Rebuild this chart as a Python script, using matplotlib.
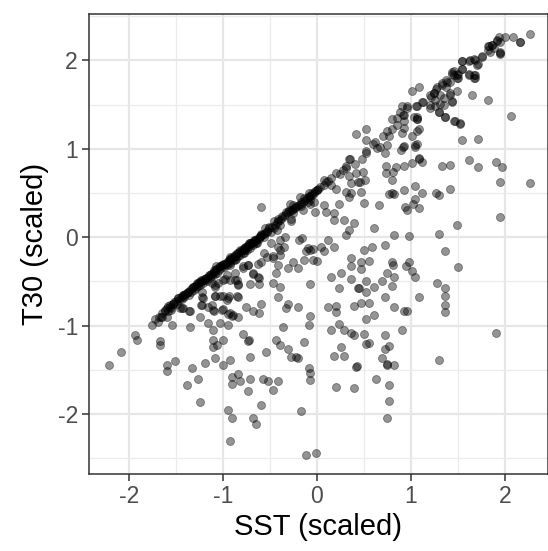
import matplotlib
matplotlib.use("Agg")
import matplotlib.pyplot as plt
from matplotlib.ticker import FixedLocator
import numpy as np

plt.rcParams['font.family'] = ['Liberation Sans', 'DejaVu Sans']
plt.rcParams['axes.unicode_minus'] = False

# ---- data (SST scaled, T30 scaled) ----
band_main = [
    (-1.72,-0.93),(-1.68,-0.90),(-1.65,-0.86),(-1.62,-0.82),(-1.60,-0.80),(-1.58,-0.78),(-1.56,-0.77),(-1.55,-0.80),
    (-1.53,-0.75),(-1.52,-0.73),(-1.50,-0.72),(-1.49,-0.75),(-1.48,-0.69),(-1.47,-0.71),(-1.45,-0.68),(-1.44,-0.70),
    (-1.43,-0.66),(-1.42,-0.65),(-1.41,-0.68),(-1.40,-0.64),(-1.38,-0.63),(-1.37,-0.62),(-1.36,-0.65),(-1.35,-0.60),
    (-1.34,-0.62),(-1.33,-0.58),(-1.32,-0.56),(-1.31,-0.60),(-1.30,-0.55),(-1.29,-0.57),(-1.28,-0.53),(-1.27,-0.55),
    (-1.26,-0.52),(-1.25,-0.51),(-1.24,-0.54),(-1.23,-0.49),(-1.22,-0.50),(-1.21,-0.52),(-1.20,-0.47),(-1.19,-0.48),
    (-1.18,-0.46),(-1.17,-0.50),(-1.16,-0.45),(-1.15,-0.43),(-1.14,-0.46),(-1.13,-0.42),(-1.12,-0.44),(-1.11,-0.40),
    (-1.10,-0.39),(-1.09,-0.42),(-1.08,-0.38),(-1.07,-0.36),(-1.06,-0.40),(-1.05,-0.35),(-1.04,-0.37),(-1.03,-0.33),
    (-1.02,-0.35),(-1.01,-0.32),(-1.00,-0.31),(-0.99,-0.34),(-0.98,-0.30),(-0.97,-0.29),(-0.96,-0.32),(-0.95,-0.27),
    (-0.94,-0.28),(-0.93,-0.25),(-0.92,-0.29),(-0.91,-0.24),(-0.90,-0.23),(-0.89,-0.26),(-0.88,-0.21),(-0.87,-0.22),
    (-0.86,-0.25),(-0.85,-0.19),(-0.84,-0.21),(-0.83,-0.17),(-0.82,-0.20),(-0.81,-0.16),(-0.80,-0.15),(-0.79,-0.18),
    (-0.78,-0.13),(-0.77,-0.14),(-0.76,-0.12),(-0.75,-0.11),(-0.74,-0.14),(-0.73,-0.09),(-0.72,-0.10),(-0.71,-0.07),
    (-0.70,-0.08),(-0.69,-0.06),(-0.68,-0.09),(-0.67,-0.04),(-0.66,-0.05),(-0.65,-0.03),(-0.64,-0.06),(-0.63,-0.01),
    (-0.62,-0.02),(-0.61,0.00),(-0.60,0.02),(-0.58,0.03),(-0.56,0.04),(-0.55,0.05),
    (-0.53,0.07),(-0.51,0.10),(-0.49,0.06),(-0.48,0.11),(-0.46,0.10),(-0.45,0.14),(-0.43,0.16),(-0.41,0.18),
    (-0.39,0.20),(-0.37,0.22),(-0.35,0.24),(-0.33,0.26),(-0.31,0.28),(-0.29,0.30),(-0.27,0.31),(-0.25,0.32),
    (-0.23,0.34),(-0.21,0.35),(-0.19,0.37),(-0.17,0.38),(-0.15,0.40),(-0.13,0.42),(-0.11,0.44),
    (-0.09,0.45),(-0.07,0.47),(-0.05,0.48),(-0.03,0.50),(-0.02,0.52),
    (0.00,0.53),(0.01,0.55),
]

band_extra = [
    (-1.48,-0.69),(-1.42,-0.65),(-1.37,-0.62),(-1.32,-0.56),(-1.28,-0.52),(-1.23,-0.48),(-1.19,-0.47),(-1.14,-0.43),
    (-1.10,-0.37),(-1.07,-0.33),(-1.03,-0.33),(-1.00,-0.30),(-0.94,-0.26),(-0.93,-0.22),(-0.87,-0.20),(-0.82,-0.15),
    (-0.77,-0.11),(-0.71,-0.07),(-0.66,-0.03),(-0.61,0.01),(-0.85,-0.18),(-0.78,-0.125),(-0.725,-0.07),(-0.67,-0.03),
    (-0.60,0.04),(-0.55,0.10),(-0.51,0.12),(-0.46,0.18),(-0.41,0.21),(-0.37,0.24),(-0.33,0.29),(-0.30,0.31),
    (-0.25,0.36),(-0.17,0.40),(-0.14,0.44),(-0.09,0.47),(-0.05,0.50),(-0.005,0.535),(-0.07,0.42),(-0.03,0.40),
    (-0.10,0.40),(-0.17,0.35),(-0.23,0.33),(-0.25,0.27),(-0.28,0.21),(-0.39,0.14),(-0.42,0.08),(-0.53,0.06),
    (-0.565,0.007),(-0.65,-0.07),(-0.71,-0.125),(-0.78,-0.18),(-0.87,-0.26),(-0.92,-0.31),
    (-1.565,-0.79),(-1.53,-0.75),(-1.55,-0.82),(-1.62,-0.84),(-1.65,-0.90),(-1.69,-0.96),(-1.46,-0.80),(-1.42,-0.80),
    (-1.35,-0.84),(-1.23,-0.77),(-1.21,-0.69),(-1.22,-0.62),(-1.12,-0.77),(-1.10,-0.84),(-1.015,-0.82),
    (-1.085,-0.67),(-1.03,-0.67),(-0.96,-0.71),(-0.94,-0.67),(-0.855,-0.67),(-0.93,-0.86),(-0.89,-0.88),
    (-1.12,-0.52),(-1.085,-0.54),(-1.05,-0.52),(-1.00,-0.48),(-0.96,-0.43),(-0.93,-0.48),(-0.87,-0.41),
    (-0.855,-0.48),(-0.84,-0.54),(-0.785,-0.33),(-0.73,-0.32),(-0.68,-0.41),(-0.625,-0.30),(-0.625,-0.45),
]

lower_left = [
    (-2.21,-1.44),(-2.08,-1.30),(-1.94,-1.11),(-1.91,-1.16),(-1.76,-0.99),(-1.67,-1.17),(-1.67,-1.22),(-1.60,-1.45),
    (-1.60,-1.51),(-1.51,-1.40),(-1.54,-0.99),(-1.35,-1.02),(-1.33,-1.48),(-1.38,-1.67),(-1.27,-1.60),(-1.24,-1.86),
    (-1.19,-1.42),(-1.24,-0.90),(-1.16,-0.97),(-1.11,-1.05),(-1.11,-1.16),(-1.11,-1.24),(-1.06,-1.22),(-1.09,-1.37),
    (-1.00,-1.45),(-1.00,-1.16),(-1.03,-0.97),(-0.95,-0.99),(-0.93,-1.39),(-0.90,-1.58),(-0.90,-1.66),(-0.84,-1.55),
    (-0.82,-1.63),(-0.95,-1.96),(-0.90,-2.04),(-0.93,-2.30),(-0.73,-1.74),(-0.71,-1.60),(-0.71,-1.36),(-0.79,-1.10),
    (-0.73,-1.17),(-0.72,-1.16),(-0.68,-2.05),(-0.65,-2.11),(-0.60,-1.90),(-0.57,-1.60),(-0.52,-1.63),(-0.47,-1.73),
    (-0.41,-1.63),(-0.54,-1.30),(-0.44,-1.16),(-0.39,-1.22),(-0.31,-1.26),(-0.28,-1.35),(-0.22,-1.36),(-0.20,-1.37),
    (-0.36,-1.02),(-0.14,-1.19),(-0.09,-0.99),(-0.07,-0.89),(-0.09,-1.48),(-0.07,-1.54),(-0.07,-1.62),(-0.17,-1.97),
    (-0.12,-2.46),(-0.01,-2.44),
]

mid_left = [
    (-0.71,-0.53),(-0.62,-0.53),(-0.68,-0.42),(-0.62,-0.46),(-0.76,-0.79),(-0.68,-0.84),(-0.62,-0.86),(-0.60,-0.76),
    (-0.84,-0.68),(-0.84,-0.53),(-0.79,-0.35),(-0.73,-0.32),(-0.60,-0.28),(-0.47,-0.23),(-0.44,-0.40),(-0.47,-0.52),
    (-0.39,-0.56),(-0.41,-0.68),(-0.33,-0.80),(-0.31,-0.75),(-0.20,-0.79),(-0.07,-0.53),(-0.31,-0.35),(-0.25,-0.28),
    (-0.20,-0.35),(-0.14,-0.26),(-0.04,-0.26),(-1.16,-0.79),(-1.22,-0.68),(-1.22,-0.77),(-1.11,-0.82),(-1.00,-0.81),
    (-0.95,-0.87),(-0.90,-0.89),(-0.84,-0.90),(-0.95,-0.69),(-1.00,-0.67),(-1.09,-0.67),(-1.09,-0.56),(-0.98,-0.47),
    (-0.87,-0.48),(-1.36,-0.83),(-1.44,-0.80),(-1.58,-0.84),(-1.60,-0.90),(-1.66,-0.90),
    (-0.275,0.18),(-0.19,-0.03),(-0.16,-0.01),(-0.39,-0.03),(-0.35,-0.11),(-0.39,-0.20),(-0.49,-0.07),(-0.565,-0.18),
    (-0.41,-0.31),(-0.10,-0.125),(-0.07,-0.14),(-0.12,-0.16),(-0.60,0.34),(-0.18,0.46),(-0.09,0.50),(-0.34,0.006),
    (-0.04,-0.13),(-0.41,-0.11),(-0.39,-0.14),(-0.15,0.31),(-0.07,0.38),(-0.29,0.38),(-0.53,-0.22),(-0.47,-0.21),
]

lower_right = [
    (0.00,-0.27),(0.36,-0.23),(0.36,-0.33),(0.47,-0.28),(0.47,-0.36),(0.55,-0.27),(0.80,-0.28),(0.81,-0.31),
    (0.98,-0.28),(0.95,-0.33),(1.01,-0.38),(1.04,-0.45),(1.50,-0.34),(0.15,-0.45),(0.26,-0.41),(0.36,-0.47),
    (0.23,-0.58),(0.44,-0.58),(0.45,-0.57),(0.52,-0.50),(0.52,-0.62),(0.61,-0.56),(0.69,-0.50),(0.74,-0.41),
    (0.82,-0.45),(0.80,-0.55),(0.72,-0.68),(0.47,-0.74),(0.55,-0.74),(0.39,-0.78),(0.12,-0.79),(0.20,-0.78),
    (0.20,-0.85),(0.61,-0.88),(0.52,-0.93),(0.82,-0.79),(0.93,-0.84),(0.96,-0.83),(1.09,-0.68),(1.28,-0.52),
    (1.36,-0.58),(1.36,-0.67),(1.36,-0.77),(1.36,-0.85),(1.90,-1.08),(0.15,-1.05),(0.23,-0.98),(0.29,-1.05),
    (0.36,-1.08),(0.39,-1.11),(0.50,-1.10),(0.72,-1.11),(0.90,-1.05),(0.26,-1.24),(0.18,-1.34),(0.29,-1.34),
    (0.52,-1.21),(0.55,-1.20),(0.72,-1.26),(0.77,-1.23),(0.69,-1.37),(0.74,-1.43),(0.74,-1.45),(0.82,-1.45),
    (0.42,-1.47),(0.43,-1.46),(1.30,-1.39),(0.20,-1.70),(0.39,-1.71),(0.63,-1.60),(0.77,-1.67),(0.77,-1.85),
    (0.74,-2.05),
]

upper_right = [
    (2.16,2.21),(1.95,2.08),(1.70,1.95),(1.62,1.85),(1.68,1.83),(1.68,1.80),(1.54,1.90),(1.50,1.85),
    (1.50,1.80),(1.49,1.65),(1.65,1.61),(1.82,1.55),(2.06,1.37),(1.54,1.10),(1.71,1.11),(1.46,1.32),
    (1.52,1.28),(1.36,1.36),(1.30,1.42),(1.44,1.53),(1.41,1.63),(1.01,1.65),(1.09,1.70),(1.06,1.34),
    (1.06,1.36),(1.09,1.22),(1.06,1.20),(1.01,1.14),(1.06,1.06),(1.04,1.04),(0.93,1.38),(0.93,1.31),
    (0.93,1.23),(0.90,1.18),(0.85,1.27),(0.80,1.34),(0.80,1.22),(0.77,1.14),(0.74,1.04),(0.91,1.02),
    (0.93,1.03),(0.89,0.99),(1.04,1.02),(1.08,0.90),(1.08,0.88),(1.12,0.85),(1.01,0.84),(0.93,0.81),
    (0.84,0.79),(0.81,0.74),(0.73,0.80),(0.73,0.73),(0.80,0.65),(0.72,0.95),(0.64,1.01),(0.67,1.02),
    (0.52,0.97),(0.52,0.95),(0.52,1.10),(0.42,1.17),(0.52,1.22),(0.48,0.89),(0.34,0.88),(0.35,0.88),
    (0.31,0.80),(0.31,0.78),(0.40,0.83),(0.42,0.73),(0.44,0.62),(0.49,0.74),(0.51,0.65),(0.46,0.63),
    (0.34,0.69),(0.36,0.61),(0.20,0.73),(0.15,0.67),(0.07,0.65),(0.15,0.59),(0.07,0.59),(0.20,0.55),
    (0.31,0.51),(0.36,0.50),(0.34,0.46),(0.47,0.51),(0.50,0.39),(0.66,0.36),(0.77,0.49),(0.80,0.50),
    (0.82,0.49),(0.93,0.53),(1.04,0.58),(1.12,0.50),(1.02,0.38),(1.04,0.43),(0.94,0.34),(0.96,0.31),
    (1.09,0.33),(1.27,0.50),(1.30,0.48),(1.41,0.54),(1.33,0.81),(1.41,0.82),(1.62,0.87),(1.71,0.79),
    (1.90,0.85),(1.97,0.79),(1.95,0.63),(2.27,0.61),(1.49,0.14),(1.95,0.23),(1.30,0.04),(1.36,-0.16),
    (0.98,0.01),(0.82,0.02),(0.72,-0.09),(0.58,-0.11),(0.50,-0.14),(0.61,0.10),(0.31,0.02),(0.34,0.08),
    (0.29,0.19),(0.39,0.16),(0.18,0.27),(0.18,0.19),(0.10,0.28),(0.07,0.37),(0.23,0.38),(-0.02,0.29),
    (0.12,-0.03),(0.04,-0.11),(0.07,-0.16),(0.18,-0.11),
]

band_top = [
    (0.03,0.57),(0.10,0.62),(0.12,0.64),(0.25,0.72),(0.28,0.76),(0.60,1.05),(0.62,1.08),(0.70,1.15),
    (0.75,1.20),(0.85,1.35),(0.88,1.42),(0.90,1.48),(0.96,1.48),(1.05,1.48),(1.12,1.53),(1.21,1.59),
    (1.24,1.63),(1.28,1.70),(1.33,1.74),(1.38,1.76),(1.44,1.87),(1.46,1.83),(1.54,1.99),(1.63,2.00),
    (1.68,2.00),(1.75,2.05),(1.83,2.16),(1.86,2.17),(1.92,2.23),(2.27,2.30),(2.16,2.21),(2.08,2.26),
    (2.00,2.27),(1.94,2.26),(1.95,2.21),(1.91,2.22),(1.86,2.17),(1.82,2.16),(1.82,2.12),(1.84,2.10),
    (1.88,2.14),(1.95,2.10),(1.95,2.07),(1.75,2.04),(1.71,1.96),(1.67,2.02),(1.62,1.99),(1.54,1.99),
    (1.67,1.84),(1.67,1.80),(1.62,1.84),(1.54,1.90),(1.46,1.88),(1.49,1.84),(1.49,1.80),(1.44,1.85),
    (1.37,1.78),(1.41,1.76),(1.33,1.72),(1.37,1.70),(1.27,1.68),(1.24,1.63),(1.20,1.61),(1.31,1.61),
    (1.35,1.57),(1.41,1.61),(1.26,1.55),(1.44,1.54),(1.31,1.51),(1.20,1.50),(1.13,1.53),(1.06,1.48),
    (0.96,1.46),(0.92,1.38),(1.03,1.36),(1.06,1.34),(1.20,1.46),(1.26,1.48),(1.35,1.50),(1.30,1.42),
    (1.36,1.36),(1.47,1.31),(1.52,1.29),
]

groups = [band_main, band_extra, lower_left, mid_left, lower_right, upper_right, band_top]
pts = np.array([p for g in groups for p in g])
sst = pts[:, 0]
t30 = pts[:, 1]

x_ticks = [-2, -1, 0, 1, 2]
y_ticks = [-2, -1, 0, 1, 2]
x_minor = [-1.5, -0.5, 0.5, 1.5]
y_minor = [-2.5, -1.5, -0.5, 0.5, 1.5, 2.5]

W, H = 548, 551
fig = plt.figure(figsize=(W / 100, H / 100), dpi=100)
L, R, T, B = 89, 547.5, 14, 473.5
ax = fig.add_axes([L / W, 1 - B / H, (R - L) / W, (B - T) / H])

ax.scatter(sst, t30, s=33, c='black', alpha=0.42, edgecolors='black', linewidths=0.6, zorder=3)

ax.set_xlim(-2.425, 2.452)
ax.set_ylim(-2.673, 2.525)
ax.xaxis.set_major_locator(FixedLocator(x_ticks))
ax.yaxis.set_major_locator(FixedLocator(y_ticks))
ax.xaxis.set_minor_locator(FixedLocator(x_minor))
ax.yaxis.set_minor_locator(FixedLocator(y_minor))
ax.set_axisbelow(True)
ax.grid(which='major', color='#E6E6E6', linewidth=1.6)
ax.grid(which='minor', color='#EBEBEB', linewidth=0.9)
ax.tick_params(which='major', length=5, width=1.1, color='#333333',
               labelsize=16.5, labelcolor='#4D4D4D', pad=3)
ax.tick_params(which='minor', length=0)
for s in ax.spines.values():
    s.set_color('#333333')
    s.set_linewidth(1.1)

ax.set_xlabel('SST (scaled)', fontsize=21, color='black', labelpad=4)
ax.set_ylabel('T30 (scaled)', fontsize=21, color='black', labelpad=6)

fig.savefig('out.png', dpi=100)
